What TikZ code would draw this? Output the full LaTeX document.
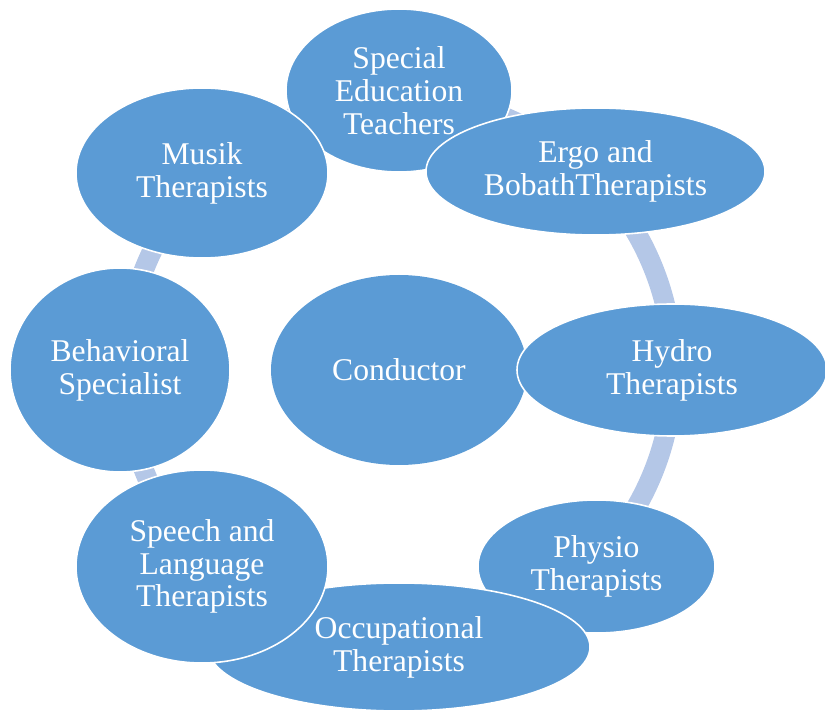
\documentclass[tikz,border=0pt]{standalone}
\usepackage{fontspec}
\setmainfont{Liberation Serif}
\usetikzlibrary{shapes.geometric,backgrounds}
\definecolor{bubblefill}{RGB}{91,155,213}
\definecolor{ringblue}{RGB}{180,199,231}
\tikzset{
  bubble/.style={ellipse, fill=bubblefill, draw=white, line width=0.9pt, inner sep=0pt,
    text=white, align=center, font=\fontsize{18}{18.7}\selectfont},
  ring/.style={draw=ringblue, line width=0.4cm}
}
\begin{document}
\begin{tikzpicture}
\useasboundingbox (0,0) rectangle (16.5,14.22);
\node[bubble, draw=none, minimum width=5.12cm, minimum height=3.80cm] (conductor) at (7.98,6.82) {Conductor};
\node[bubble, minimum width=4.52cm, minimum height=3.26cm] (special) at (7.98,12.41) {Special\\Education\\Teachers};
\node[bubble, minimum width=6.78cm, minimum height=2.54cm] (ergo) at (11.91,10.79) {Ergo and\\BobathTherapists};
\node[bubble, minimum width=6.20cm, minimum height=2.64cm] (hydro) at (13.44,6.82) {Hydro\\Therapists};
\node[bubble, minimum width=4.74cm, minimum height=2.66cm] (physio) at (11.93,2.89) {Physio\\Therapists};
\node[bubble, minimum width=7.64cm, minimum height=2.56cm] (occupational) at (7.98,1.28) {Occupational\\Therapists};
\node[bubble, minimum width=5.04cm, minimum height=3.86cm] (speech) at (4.04,2.89) {Speech and\\Language\\Therapists};
\node[bubble, minimum width=4.40cm, minimum height=4.08cm] (behavioral) at (2.40,6.82) {Behavioral\\Specialist};
\node[bubble, minimum width=5.04cm, minimum height=3.40cm] (musik) at (4.04,10.76) {Musik\\Therapists};
\begin{scope}[on background layer]
\foreach \s in {90,45,0,-45,-90,-135,180,135}
{
\draw[ring] (conductor.center) ++(\s:5.48) arc[start angle=\s, delta angle=-45, radius=5.48];
}
\end{scope}
\end{tikzpicture}
\end{document}
